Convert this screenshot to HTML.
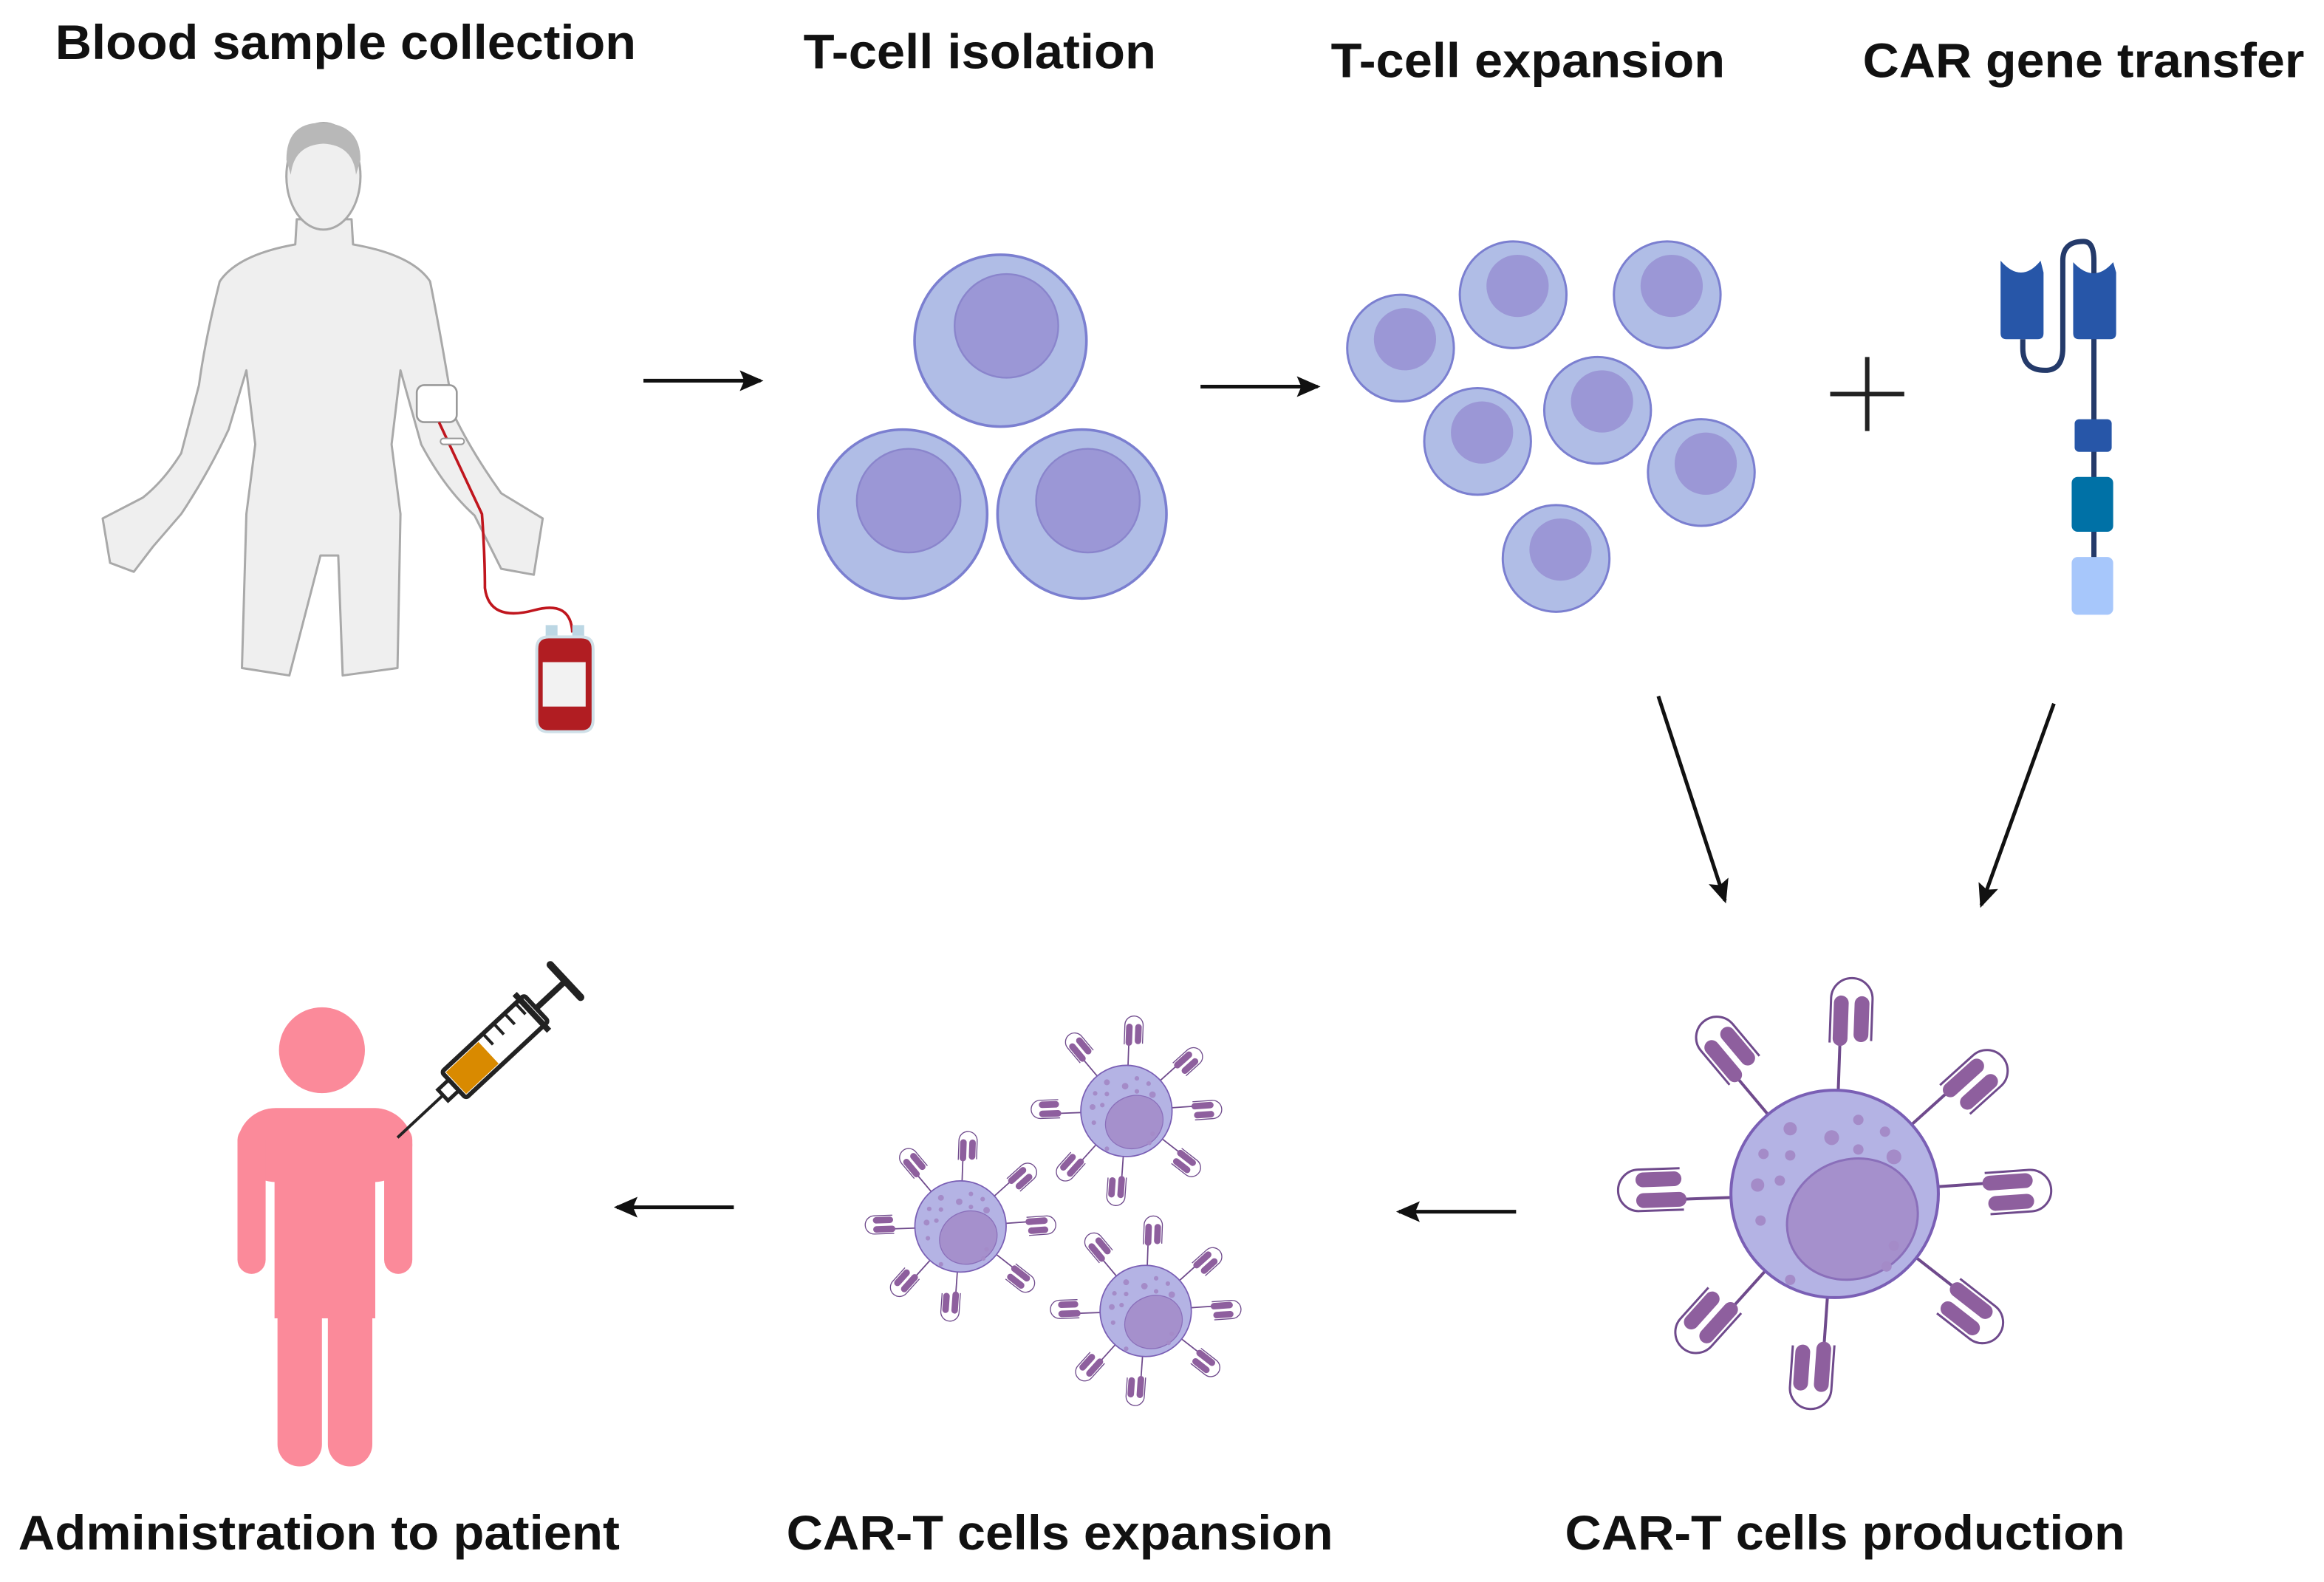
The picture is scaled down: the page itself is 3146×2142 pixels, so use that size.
<!DOCTYPE html>
<html><head><meta charset="utf-8"><style>
html,body{margin:0;padding:0;background:#fff;}
svg{display:block;}
text{font-family:"Liberation Sans",sans-serif;font-weight:bold;fill:#111;}
</style></head><body>
<svg width="3146" height="2142" viewBox="0 0 1568 1068" xmlns="http://www.w3.org/2000/svg">
<defs>
<marker id="ah" markerWidth="16" markerHeight="14" refX="14" refY="7" orient="auto" markerUnits="userSpaceOnUse">
<path d="M0,0 L16,7 L0,14 L3,7 Z" fill="#111"/></marker>
<g id="rec">
<line x1="68" y1="0" x2="101" y2="0" stroke="#6f4a8c" stroke-width="2"/>
<path d="M104,21 H132 A13.5,13.5 0 0 0 132,-7 H102" fill="none" stroke="#6f4a8c" stroke-width="1.5"/>
<rect x="100" y="-5" width="34" height="10" rx="5" fill="#8e5f9e"/>
<rect x="103" y="9" width="31" height="10" rx="5" fill="#8e5f9e"/>
</g>
<g id="cart">
<use href="#rec" transform="rotate(-88)"/>
<use href="#rec" transform="rotate(-42)"/>
<use href="#rec" transform="rotate(-4)"/>
<use href="#rec" transform="rotate(38)"/>
<use href="#rec" transform="rotate(94)"/>
<use href="#rec" transform="rotate(132)"/>
<use href="#rec" transform="rotate(178)"/>
<use href="#rec" transform="rotate(-130)"/>
<circle r="70" fill="#b4b3e4" stroke="#7a5fb5" stroke-width="2"/>
<ellipse cx="12" cy="17" rx="45" ry="40" transform="rotate(-25 12 17)" fill="#a590cc" stroke="#8a6fba" stroke-width="1.5"/>
<g fill="#a48bc8">
<circle cx="-30" cy="-44" r="4.5"/><circle cx="-2" cy="-38" r="5"/><circle cx="16" cy="-50" r="3.5"/><circle cx="34" cy="-42" r="3.5"/>
<circle cx="-48" cy="-27" r="3.5"/><circle cx="-30" cy="-26" r="3.5"/><circle cx="16" cy="-30" r="3.5"/><circle cx="40" cy="-25" r="5"/>
<circle cx="-52" cy="-6" r="4.5"/><circle cx="-37" cy="-9" r="3.5"/><circle cx="-50" cy="18" r="3.5"/><circle cx="40" cy="35" r="3.5"/><circle cx="35" cy="49" r="3.5"/><circle cx="-30" cy="58" r="3.5"/>
</g>
</g>
</defs>

<!-- titles -->
<text x="233" y="40" text-anchor="middle" font-size="33" textLength="392" lengthAdjust="spacingAndGlyphs">Blood sample collection</text>
<text x="661" y="46" text-anchor="middle" font-size="33" textLength="238" lengthAdjust="spacingAndGlyphs">T-cell isolation</text>
<text x="1031" y="52" text-anchor="middle" font-size="33" textLength="266" lengthAdjust="spacingAndGlyphs">T-cell expansion</text>
<text x="1406" y="52" text-anchor="middle" font-size="33" textLength="298" lengthAdjust="spacingAndGlyphs">CAR gene transfer</text>
<text x="215" y="1046" text-anchor="middle" font-size="33" textLength="406" lengthAdjust="spacingAndGlyphs">Administration to patient</text>
<text x="715" y="1046" text-anchor="middle" font-size="33" textLength="369" lengthAdjust="spacingAndGlyphs">CAR-T cells expansion</text>
<text x="1245" y="1046" text-anchor="middle" font-size="33" textLength="378" lengthAdjust="spacingAndGlyphs">CAR-T cells production</text>

<!-- human -->
<g fill="#efefef" stroke="#a9a9a9" stroke-width="1.5" stroke-linejoin="round">
<path d="M200,148 L199,165 Q160,172 148,190 Q138,230 134,260 L122,306 Q110,325 96,336 L69,350 L74,380 L90,386 L103,369 L122,347 Q140,320 154,290 L166,250 L172,300 L166,347 L163,451 L195,456 L216,375 L228,375 L231,456 L268,451 L270,347 L264,300 L270,250 L284,300 Q300,330 320,348 L338,384 L360,388 L366,350 L338,333 Q318,305 306,280 Q298,230 290,190 Q278,172 238,165 L237,148 Z"/>
<ellipse cx="218" cy="119" rx="25" ry="36"/>
</g>
<path d="M193,108 Q193,82 218,83 Q243,84 243,108 L240,118 Q238,98 218,97 Q198,98 196,118 Z" fill="#b8b8b8"/>
<rect x="281" y="260" width="27" height="25" rx="5" fill="#fff" stroke="#999" stroke-width="1.3"/>
<path d="M296,285 L325,347 Q327,375 327,397 Q330,420 360,412 Q385,405 386,427" fill="none" stroke="#c0161e" stroke-width="1.8"/>
<rect x="297" y="296" width="16" height="4" rx="2" fill="#fff" stroke="#999"/>
<rect x="368" y="422" width="8" height="10" fill="#bcd7e4"/><rect x="386" y="422" width="8" height="10" fill="#bcd7e4"/>
<path d="M362,438 Q362,430 370,430 L392,430 Q400,430 400,438 L400,486 Q400,494 392,494 L370,494 Q362,494 362,486 Z" fill="#b11d22" stroke="#cfe0e8" stroke-width="2"/>
<rect x="366" y="447" width="29" height="30" fill="#f2f2f2"/>

<!-- arrows -->
<g stroke="#111" stroke-width="2.5" marker-end="url(#ah)">
<line x1="434" y1="257" x2="513" y2="257"/>
<line x1="810" y1="261" x2="889" y2="261"/>
<line x1="1119" y1="470" x2="1164" y2="608"/>
<line x1="1386" y1="475" x2="1337" y2="611"/>
<line x1="1023" y1="818" x2="944" y2="818"/>
<line x1="495" y1="815" x2="416" y2="815"/>
</g>
<path d="M1235,266 H1285 M1260,241 V291" stroke="#222" stroke-width="3"/>

<!-- T-cell isolation -->
<g fill="#b0bde6" stroke="#7b7fd0" stroke-width="1.8">
<circle cx="675" cy="230" r="58"/><circle cx="609" cy="347" r="57"/><circle cx="730" cy="347" r="57"/>
</g>
<g fill="#9b97d6" stroke="#8a85cc" stroke-width="1.2">
<circle cx="679" cy="220" r="35"/><circle cx="613" cy="338" r="35"/><circle cx="734" cy="338" r="35"/>
</g>
<!-- T-cell expansion -->
<g fill="#b0bde6" stroke="#7b7fd0" stroke-width="1.5">
<circle cx="945" cy="235" r="36"/><circle cx="1021" cy="199" r="36"/><circle cx="1125" cy="199" r="36"/><circle cx="997" cy="298" r="36"/><circle cx="1078" cy="277" r="36"/><circle cx="1148" cy="319" r="36"/><circle cx="1050" cy="377" r="36"/>
</g>
<g fill="#9b97d6">
<circle cx="948" cy="229" r="21"/><circle cx="1024" cy="193" r="21"/><circle cx="1128" cy="193" r="21"/><circle cx="1000" cy="292" r="21"/><circle cx="1081" cy="271" r="21"/><circle cx="1151" cy="313" r="21"/><circle cx="1053" cy="371" r="21"/>
</g>

<!-- CAR gene -->
<path d="M1365,229 L1365,235 Q1365,250 1380,250 Q1392,250 1392,235 L1392,176 Q1392,163 1406,163 Q1413,163 1413,176 L1413,400" fill="none" stroke="#243a6a" stroke-width="3.5"/>
<path d="M1350,176 Q1364,192 1377,176 L1379,184 L1379,225 Q1379,229 1375,229 L1354,229 Q1350,229 1350,225 Z" fill="#2756a8"/>
<path d="M1399,177 Q1413,192 1426,177 L1428,184 L1428,225 Q1428,229 1424,229 L1403,229 Q1399,229 1399,225 Z" fill="#2756a8"/>
<rect x="1400" y="283" width="25" height="22" rx="3" fill="#2756a8"/>
<rect x="1398" y="322" width="28" height="37" rx="4" fill="#0071a6"/>
<rect x="1398" y="376" width="28" height="39" rx="4" fill="#a7c7fb"/>

<!-- CAR-T big -->
<use href="#cart" transform="translate(1238,806)"/>
<!-- small CAR-T -->
<use href="#cart" transform="translate(760,750) scale(0.44)"/>
<use href="#cart" transform="translate(648,828) scale(0.44)"/>
<use href="#cart" transform="translate(773,885) scale(0.44)"/>

<!-- pink person -->
<g fill="#fb8a9a">
<circle cx="217" cy="709" r="29"/>
<rect x="160" y="748" width="118" height="50" rx="26"/>
<rect x="160" y="760" width="19" height="100" rx="9.5"/>
<rect x="259" y="760" width="19" height="100" rx="9.5"/>
<rect x="185" y="760" width="68" height="130"/>
<rect x="187" y="850" width="30" height="140" rx="15"/>
<rect x="221" y="850" width="30" height="140" rx="15"/>
</g>
<!-- syringe -->
<g transform="translate(268,768) rotate(-43)">
<line x1="0" y1="0" x2="44" y2="0" stroke="#222" stroke-width="2"/>
<rect x="42" y="-5" width="10" height="10" fill="#fff" stroke="#222" stroke-width="2.5"/>
<rect x="52" y="-12" width="76" height="24" rx="2" fill="#fff" stroke="#222" stroke-width="3"/>
<rect x="54" y="-10" width="30" height="20" fill="#d98a00"/>
<g stroke="#222" stroke-width="2"><line x1="90" y1="-12" x2="90" y2="-2"/><line x1="100" y1="-12" x2="100" y2="-2"/><line x1="110" y1="-12" x2="110" y2="-2"/><line x1="120" y1="-12" x2="120" y2="-2"/></g>
<line x1="124" y1="-17" x2="124" y2="17" stroke="#222" stroke-width="4"/>
<line x1="128" y1="0" x2="155" y2="0" stroke="#222" stroke-width="4"/>
<line x1="155" y1="-15" x2="155" y2="15" stroke="#222" stroke-width="5" stroke-linecap="round"/>
</g>
</svg>
</body></html>
